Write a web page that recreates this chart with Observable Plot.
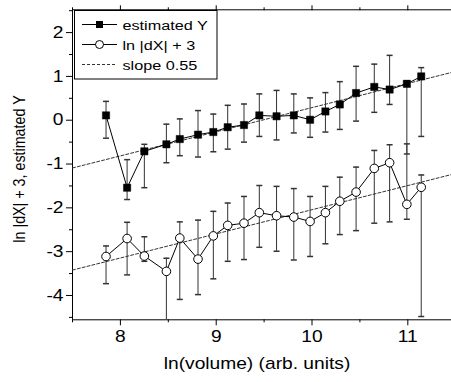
<!DOCTYPE html>
<html>
<head>
<meta charset="utf-8">
<script src="https://cdn.jsdelivr.net/npm/d3@7"></script>
<script src="https://cdn.jsdelivr.net/npm/@observablehq/plot@0.6"></script>
<style>
  html, body { margin: 0; padding: 0; background: #fff; }
  #chart svg { display: block; font-family: "Liberation Sans", Arial, sans-serif; }
</style>
</head>
<body>
<div id="chart"></div>
<script>
// ln(volume) bin centres
const lnVolume = [7.85, 8.07, 8.25, 8.48, 8.62, 8.81, 8.97, 9.12, 9.29, 9.45,
                  9.63, 9.81, 9.98, 10.14, 10.29, 10.46, 10.65, 10.81, 10.99, 11.14];
// estimated Y (filled squares) and error bar bounds
const estY    = [0.11, -1.54, -0.71, -0.55, -0.43, -0.33, -0.27, -0.16, -0.11, 0.11,
                 0.09, 0.11, 0.01, 0.20, 0.36, 0.62, 0.76, 0.70, 0.83, 1.00];
const estYLow = [-0.41, -1.81, -1.54, -0.97, -0.81, -0.84, -0.72, -0.66, -0.50, -0.37,
                 -0.45, -0.29, -0.39, -0.27, -0.21, -0.02, 0.18, 0.36, -0.77, -0.37];
const estYHigh= [0.43, -0.90, -0.55, -0.09, 0.03, 0.22, 0.14, 0.34, 0.37, 0.60,
                 0.68, 0.60, 0.51, 0.63, 0.88, 1.23, 1.28, 1.48, 0.90, 1.20];
// ln |dX| + 3 (open circles) and error bar bounds
const lnDX    = [-3.11, -2.70, -3.10, -3.45, -2.69, -3.17, -2.64, -2.40, -2.35, -2.11,
                 -2.18, -2.21, -2.31, -2.11, -1.85, -1.64, -1.10, -0.97, -1.92, -1.53];
const lnDXLow = [-3.73, -3.53, -3.22, -4.60, -4.09, -3.98, -3.62, -3.22, -3.18, -2.90,
                 -2.99, -3.19, -3.11, -2.82, -2.61, -2.52, -2.35, -2.32, -2.26, -4.48];
const lnDXHigh= [-2.87, -2.33, -2.66, -3.15, -2.32, -2.28, -2.08, -1.89, -1.74, -1.49,
                 -1.51, -1.56, -1.74, -1.51, -1.30, -1.07, -0.69, -0.56, -0.54, -1.25];
// slope 0.55 guide lines (end points)
const slopeX     = [7.5, 11.456];
const slopeUpper = [-1.09, 1.09];
const slopeLower = [-3.42, -1.24];
// axes
const xTicks = [8, 9, 10, 11];
const xMinor = [7.5, 8.5, 9.5, 10.5];
const yTicks = [-4, -3, -2, -1, 0, 1, 2];
const yMinor = [-4.5, -3.5, -2.5, -1.5, -0.5, 0.5, 1.5, 2.5];
const xDomain = [7.5, 11.456];
const yDomain = [-4.555, 2.52];
const xLabel = "ln(volume) (arb. units)";
const yLabel = "ln |dX| + 3, estimated Y";
const legendLabels = ["estimated Y", "ln |dX| + 3", "slope 0.55"];

const rows = lnVolume.map((x, i) => ({
  x, y: estY[i], lo: estYLow[i], hi: estYHigh[i],
  c: lnDX[i], clo: lnDXLow[i], chi: lnDXHigh[i]
}));
const upperLine = slopeX.map((x, i) => ({x, y: slopeUpper[i]}));
const lowerLine = slopeX.map((x, i) => ({x, y: slopeLower[i]}));

const cap = { draw(ctx) { ctx.moveTo(-3, 0); ctx.lineTo(3, 0); } };
const barColor = "#333";
const fmt = d => String(d);
const STRETCH = 1.2; // the reference's lettering is horizontally widened

const plot = Plot.plot({
  width: 451,
  height: 382,
  marginLeft: 72,
  marginRight: 0,
  marginTop: 9.3,
  marginBottom: 62.7,
  style: {fontFamily: "Liberation Sans, Arial, sans-serif", fontSize: "16px", color: "#000", background: "#fff"},
  x: {domain: xDomain},
  y: {domain: yDomain},
  marks: [
    Plot.ruleX([xDomain[0]], {stroke: "#000"}),
    Plot.ruleY([yDomain[0], yDomain[1]], {stroke: "#000"}),
    Plot.axisX({ticks: xTicks, tickSize: 6, tickPadding: 5, fontSize: 16, label: null, tickFormat: fmt}),
    Plot.axisX({ticks: xMinor, tickSize: 3, tickFormat: () => "", label: null}),
    Plot.axisX({anchor: "top", ticks: xTicks, tickSize: 5, tickFormat: () => "", label: null}),
    Plot.axisX({anchor: "top", ticks: xMinor, tickSize: 3, tickFormat: () => "", label: null}),
    Plot.axisY({ticks: yTicks, tickSize: 6, tickPadding: 3, fontSize: 16, label: null, tickFormat: fmt}),
    Plot.axisY({ticks: yMinor, tickSize: 3, tickFormat: () => "", label: null}),
    Plot.line(upperLine, {x: "x", y: "y", stroke: "#333", strokeDasharray: "3,2", strokeWidth: 1, clip: true}),
    Plot.line(lowerLine, {x: "x", y: "y", stroke: "#333", strokeDasharray: "3,2", strokeWidth: 1, clip: true}),
    Plot.ruleX(rows, {x: "x", y1: "lo", y2: "hi", stroke: barColor, strokeWidth: 1, clip: true}),
    Plot.ruleX(rows, {x: "x", y1: "clo", y2: "chi", stroke: barColor, strokeWidth: 1, clip: true}),
    Plot.dot(rows, {x: "x", y: "lo", symbol: cap, stroke: barColor, r: 3}),
    Plot.dot(rows, {x: "x", y: "hi", symbol: cap, stroke: barColor, r: 3}),
    Plot.dot(rows.filter(d => d.clo > yDomain[0]), {x: "x", y: "clo", symbol: cap, stroke: barColor, r: 3}),
    Plot.dot(rows, {x: "x", y: "chi", symbol: cap, stroke: barColor, r: 3}),
    Plot.line(rows, {x: "x", y: "y", stroke: "#000", strokeWidth: 1}),
    Plot.line(rows, {x: "x", y: "c", stroke: "#000", strokeWidth: 1}),
    Plot.dot(rows, {x: "x", y: "y", symbol: "square", r: 4.1, fill: "#000", stroke: "#000", strokeWidth: 0.5}),
    Plot.dot(rows, {x: "x", y: "c", symbol: "circle", r: 4.3, fill: "#fff", stroke: "#000", strokeWidth: 1})
  ]
});

const svg = d3.select(plot);
// widen tick labels horizontally about their anchor points
svg.selectAll("text").each(function() {
  const t = d3.select(this);
  const tr = t.attr("transform");
  if (tr) t.attr("transform", `${tr} scale(${STRETCH},1)`);
});

// axis titles
svg.append("text")
  .attr("transform", `translate(257,369) scale(${STRETCH},1)`)
  .attr("text-anchor", "middle")
  .attr("font-size", 16).attr("fill", "#000")
  .text(xLabel);
svg.append("text")
  .attr("transform", `translate(25,169) rotate(-90) scale(1,${STRETCH})`)
  .attr("text-anchor", "middle")
  .attr("font-size", 14.3).attr("fill", "#000")
  .text(yLabel);

// legend
const lg = svg.append("g");
lg.append("rect").attr("x", 74.5).attr("y", 10.5).attr("width", 142.5).attr("height", 68.5)
  .attr("fill", "#fff").attr("stroke", "#000").attr("stroke-width", 1);
const rowY = [24.5, 44.5, 64.5];
lg.append("line").attr("x1", 82).attr("x2", 117).attr("y1", rowY[0]).attr("y2", rowY[0]).attr("stroke", "#000");
lg.append("rect").attr("x", 99.5 - 3.5).attr("y", rowY[0] - 3.5).attr("width", 7).attr("height", 7).attr("fill", "#000");
lg.append("line").attr("x1", 82).attr("x2", 117).attr("y1", rowY[1]).attr("y2", rowY[1]).attr("stroke", "#000");
lg.append("circle").attr("cx", 99.5).attr("cy", rowY[1]).attr("r", 4).attr("fill", "#fff").attr("stroke", "#000");
lg.append("line").attr("x1", 82).attr("x2", 117).attr("y1", rowY[2]).attr("y2", rowY[2]).attr("stroke", "#333").attr("stroke-dasharray", "3,2");
legendLabels.forEach((t, i) => {
  lg.append("text")
    .attr("transform", `translate(122.5,${rowY[i] + 5}) scale(${STRETCH},1)`)
    .attr("text-anchor", "start")
    .attr("font-size", 13.5).attr("fill", "#000").text(t);
});

document.getElementById("chart").appendChild(plot);
</script>
</body>
</html>
